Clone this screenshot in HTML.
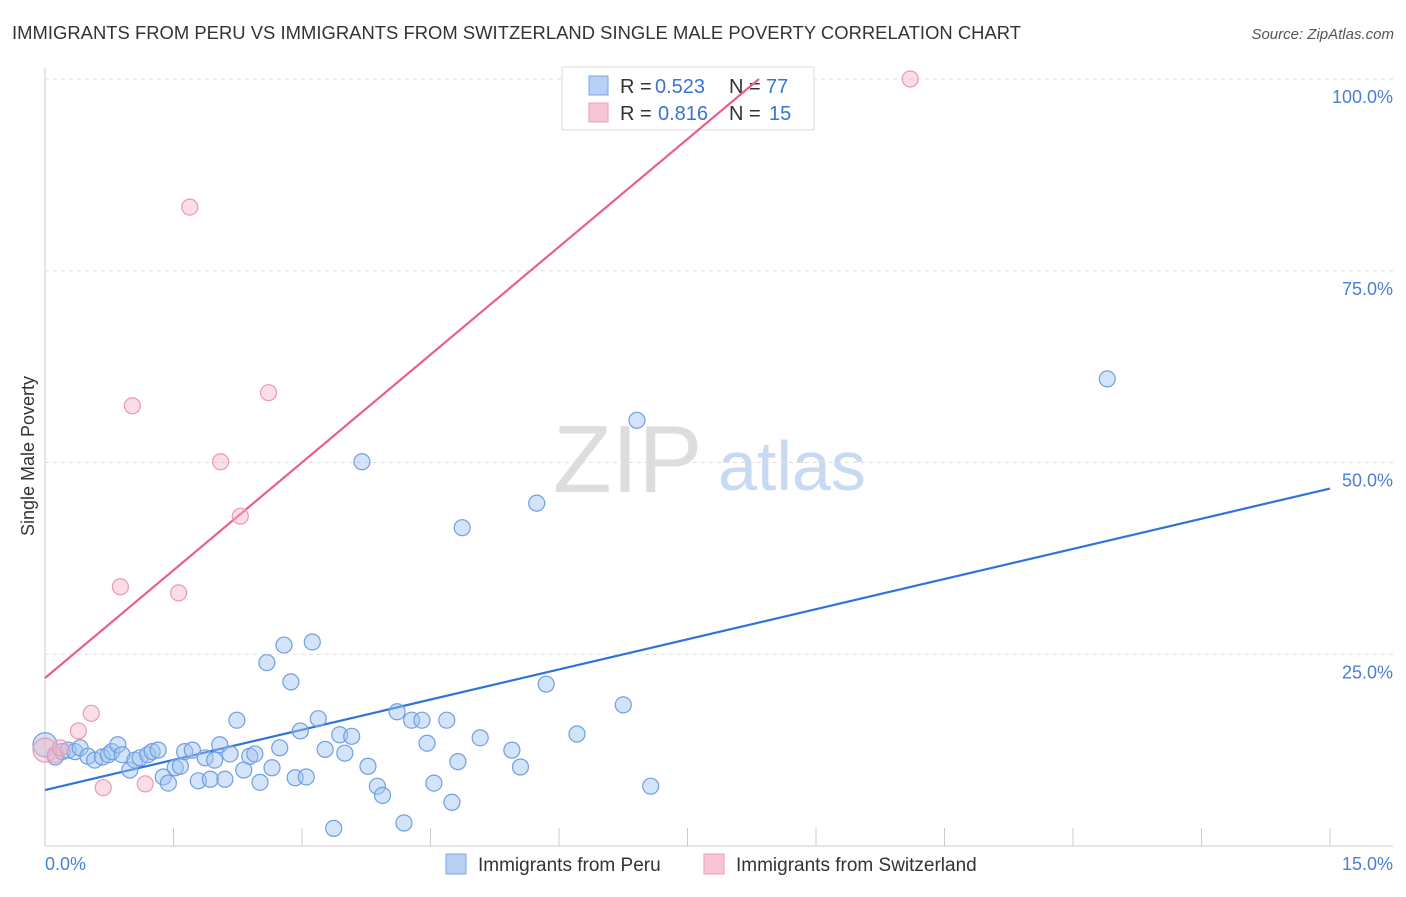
<!DOCTYPE html>
<html><head><meta charset="utf-8"><style>
body{margin:0;background:#fff;font-family:"Liberation Sans",sans-serif;}
svg text{font-family:"Liberation Sans",sans-serif;}
</style></head><body>
<svg id="chart" width="1406" height="892" xmlns="http://www.w3.org/2000/svg">
<text x="12" y="39" font-size="18.4" fill="#333" textLength="1009">IMMIGRANTS FROM PERU VS IMMIGRANTS FROM SWITZERLAND SINGLE MALE POVERTY CORRELATION CHART</text>
<text x="1394" y="39" font-size="15" fill="#555" font-style="italic" text-anchor="end">Source: ZipAtlas.com</text>
<g>
<text x="553" y="492" font-size="96" fill="#ddd" font-family="Liberation Serif,serif">ZIP</text>
<text x="718" y="490" font-size="70" fill="#c8daf2">atlas</text>
</g>
<g id="grid"></g><g id="axes"></g>
<g>
<rect x="562" y="67" width="252" height="63" fill="#fff" stroke="#ddd"/>
<rect x="589" y="76" width="19" height="19" fill="#b7d0f3" stroke="#7aa6e3"/>
<rect x="589" y="103" width="19" height="19" fill="#f7c6d4" stroke="#ec9fb6"/>
<g font-size="20">
<text x="620" y="93" fill="#333">R =</text><text x="655" y="93" fill="#3a73d4">0.523</text>
<text x="729" y="93" fill="#333">N =</text><text x="766" y="93" fill="#3a73d4">77</text></g>
<g font-size="20">
<text x="620" y="120" fill="#333">R =</text><text x="658" y="120" fill="#3a73d4">0.816</text>
<text x="729" y="120" fill="#333">N =</text><text x="769" y="120" fill="#3a73d4">15</text></g>
</g>
<g id="lines"></g><g id="points"></g>
<text transform="translate(34,456) rotate(-90)" font-size="18" fill="#333" text-anchor="middle">Single Male Poverty</text>
<text x="45" y="870" font-size="18" fill="#4a7fd6">0.0%</text>
<text x="1393" y="870" font-size="18" fill="#4a7fd6" text-anchor="end">15.0%</text>
<g>
<rect x="446" y="854" width="20" height="20" fill="#b7d0f3" stroke="#7aa6e3"/>
<text x="478" y="871" font-size="19" fill="#333">Immigrants from Peru</text>
<rect x="704" y="854" width="20" height="20" fill="#f7c6d4" stroke="#ec9fb6"/>
<text x="736" y="871" font-size="19" fill="#333">Immigrants from Switzerland</text>
</g>
</svg>
<script>
const yTicks=[25,50,75,100];
const yTickLabels=["25.0%","50.0%","75.0%","100.0%"];
const xTicks=[0,1.5,3,4.5,6,7.5,9,10.5,12,13.5,15];
const peruX=[0,0.12,0.20,0.27,0.35,0.41,0.50,0.58,0.67,0.74,0.78,0.85,0.90,0.99,1.05,1.11,1.20,1.25,1.32,1.38,1.44,1.52,1.58,1.63,1.72,1.79,1.87,1.93,1.98,2.04,2.10,2.16,2.24,2.32,2.39,2.45,2.51,2.59,2.65,2.74,2.79,2.87,2.92,2.98,3.05,3.12,3.19,3.27,3.37,3.44,3.50,3.58,3.70,3.77,3.88,3.94,4.11,4.19,4.28,4.40,4.46,4.54,4.69,4.75,4.82,4.87,5.08,5.45,5.55,5.74,5.85,6.21,6.75,6.91,7.07,12.40];
const peruY=[13.2,11.6,12.3,12.5,12.3,12.8,11.7,11.2,11.6,11.9,12.3,13.2,11.9,9.9,11.2,11.5,11.9,12.3,12.5,9.0,8.2,10.2,10.4,12.3,12.5,8.5,11.5,8.7,11.2,13.2,8.7,12.0,16.4,9.9,11.7,12.0,8.3,23.9,10.2,12.8,26.2,21.4,8.9,15.0,9.0,26.6,16.6,12.6,2.3,14.5,12.1,14.3,50.1,10.4,7.8,6.6,17.5,3.0,16.4,16.4,13.4,8.2,16.4,5.7,11.0,41.5,14.1,12.5,10.3,44.7,21.1,14.6,18.4,55.5,7.8,60.9];
const swissX=[0,0.12,0.18,0.39,0.54,0.68,0.88,1.02,1.17,1.56,1.69,2.05,2.28,2.61,10.10];
const swissY=[12.5,11.9,12.8,15.0,17.3,7.6,33.8,57.4,8.1,33.0,83.3,50.1,43.0,59.1,100];
const peruFit=[7.3,2.62];
const swissFit=[21.9,9.37];
const NS="http://www.w3.org/2000/svg";
const X=v=>45+v*(1285/15);
const Y=v=>846-v*(191.75/25);
function mk(tag,attrs,parent){const e=document.createElementNS(NS,tag);for(const k in attrs)e.setAttribute(k,attrs[k]);document.getElementById(parent).appendChild(e);return e;}
yTicks.forEach((t,i)=>{
 const l=mk('line',{x1:45,x2:1393,y1:Y(t),y2:Y(t),stroke:'#ddd','stroke-dasharray':'4,4'},'grid');
 
 
 const tx=mk('text',{x:1393,y:Y(t)+24,'font-size':18,fill:'#4a7fd6','text-anchor':'end'},'grid');
 tx.textContent=yTickLabels[i];
 
 
});
let a=mk('line',{x1:45,x2:45,y1:68,y2:846,stroke:'#ccc'},'axes');


a=mk('line',{x1:45,x2:1393,y1:846,y2:846,stroke:'#ccc'},'axes');


xTicks.forEach(t=>{
 const l=mk('line',{x1:X(t),x2:X(t),y1:828,y2:846,stroke:'#ccc'},'axes');
 
 
});
let ln=mk('line',{x1:X(0),y1:Y(peruFit[0]),x2:X(15),y2:Y(peruFit[0]+15*peruFit[1]),stroke:'#2f74d8','stroke-width':2.2},'lines');


const xe=(100-swissFit[0])/swissFit[1];
ln=mk('line',{x1:X(0),y1:Y(swissFit[0]),x2:X(xe),y2:Y(100),stroke:'#e8608a','stroke-width':2.2},'lines');


peruX.forEach((x,i)=>{
 const c=mk('circle',{cx:X(x),cy:Y(peruY[i]),r:i==0?12:8,fill:'rgba(160,195,240,0.45)',stroke:'#6f9fe0','stroke-width':1.2},'points');
 
 
});
swissX.forEach((x,i)=>{
 const c=mk('circle',{cx:X(x),cy:Y(swissY[i]),r:i==0?12:8,fill:'rgba(245,180,200,0.45)',stroke:'#e99ab2','stroke-width':1.2},'points');
 
 
});
</script>
</body></html>
